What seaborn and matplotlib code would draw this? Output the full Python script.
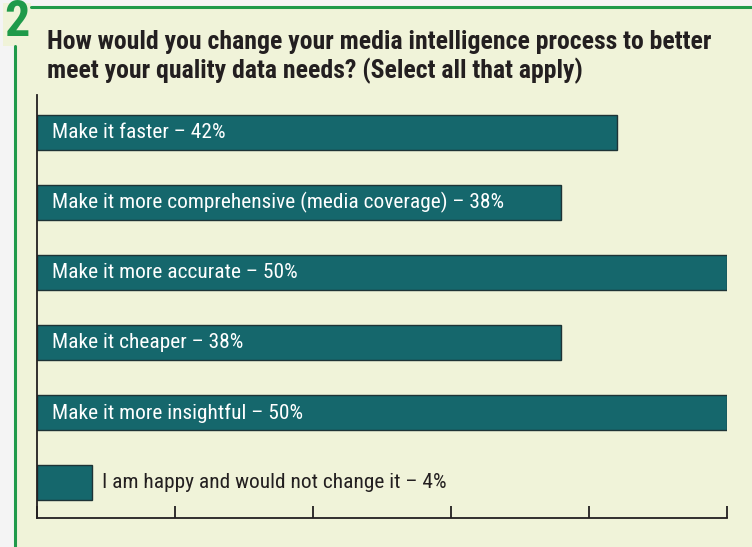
import matplotlib
matplotlib.use("Agg")
import matplotlib.pyplot as plt
import seaborn as sns
import pandas as pd
from matplotlib.patches import Rectangle
from matplotlib.lines import Line2D
from matplotlib import font_manager as fm

categories = [
    "Make it faster",
    "Make it more comprehensive (media coverage)",
    "Make it more accurate",
    "Make it cheaper",
    "Make it more insightful",
    "I am happy and would not change it",
]
values = [42, 38, 50, 38, 50, 4]
ticks = [0, 10, 20, 30, 40, 50]

df = pd.DataFrame({"cat": categories, "val": values})

sns.set_theme(style="white")

names = sorted({(f.name, f.stretch) for f in fm.fontManager.ttflist})
cond = None
for want in ["Liberation Sans Narrow", "Roboto Condensed", "Open Sans Condensed", "Noto Sans Condensed"]:
    if any(n == want for n, s in names):
        cond = want
        break
stretch = "normal"
if cond is None:
    cond_st = [n for n, s in names if s in ("condensed", "semi-condensed") or (isinstance(s, (int, float)) and s < 100)]
    if cond_st:
        cond = cond_st[0]
        stretch = "condensed"
FONT = ([cond] if cond else []) + ["Liberation Sans", "DejaVu Sans"]
plt.rcParams["font.family"] = FONT
big = cond is not None

W, H = 752, 547
fig = plt.figure(figsize=(W / 100, H / 100), dpi=100)
fig.patch.set_facecolor("#f4f4f4")

panel_bg = "#f0f3d9"
green = "#1f9a4a"
fig.patches.append(Rectangle((14 / W, 0), 1 - 14 / W, 1 - 8 / H, transform=fig.transFigure,
                             facecolor=panel_bg, edgecolor="none", zorder=0))
fig.patches.append(Rectangle((3 / W, 1 - 46 / H), 28 / W, 43 / H, transform=fig.transFigure,
                             facecolor=panel_bg, edgecolor="none", zorder=1))
fig.lines.append(Line2D([31 / W, 1], [1 - 7 / H, 1 - 7 / H], transform=fig.transFigure,
                        color=green, lw=2.2, zorder=2))
fig.lines.append(Line2D([14.5 / W, 14.5 / W], [0, 1 - 46 / H], transform=fig.transFigure,
                        color=green, lw=2.2, zorder=2))

fig.text(16.5 / W, 1 - 22 / H, "2", color=green, fontsize=36 if big else 31, fontweight="bold",
         ha="center", va="center", family=FONT, stretch=stretch)

tfs = 18.5 if big else 15.3
fig.text(47 / W, 1 - 49 / H, "How would you change your media intelligence process to better",
         fontsize=tfs, fontweight="bold", color="#231f20", va="baseline", family=FONT, stretch=stretch)
fig.text(47 / W, 1 - 78 / H, "meet your quality data needs? (Select all that apply)",
         fontsize=tfs, fontweight="bold", color="#231f20", va="baseline", family=FONT, stretch=stretch)

ax = fig.add_axes([37 / W, 1 - 518 / H, (727 - 37) / W, (518 - 95) / H])
ax.set_zorder(5)
ax.set_facecolor("none")
sns.barplot(data=df, x="val", y="cat", orient="h", color="#15676c", saturation=1,
            width=0.5, edgecolor="#1e3336", linewidth=1.0, ax=ax)
ax.set_xlim(0, 50)
ax.set_ylim(5.5, -0.53)
ax.set_xticks(ticks)
ax.set_xticklabels([])
ax.set_yticks([])
ax.set_xlabel("")
ax.set_ylabel("")
for s in ["top", "right"]:
    ax.spines[s].set_visible(False)
for s in ["left", "bottom"]:
    ax.spines[s].set_color("#231f20")
    ax.spines[s].set_linewidth(1.3)
ax.tick_params(axis="x", direction="in", length=9, width=1.3, color="#231f20", bottom=True)

lfs = 15.4 if big else 13
for i, (c, v) in enumerate(zip(categories, values)):
    label = f"{c} – {v}%"
    if v >= 10:
        ax.text(1.1, i, label, color="white", fontsize=lfs, va="center", ha="left",
                family=FONT, stretch=stretch)
    else:
        ax.text(v + 0.72, i, label, color="#231f20", fontsize=lfs, va="center", ha="left",
                family=FONT, stretch=stretch)

fig.savefig("out.png", dpi=100, facecolor=fig.get_facecolor())
